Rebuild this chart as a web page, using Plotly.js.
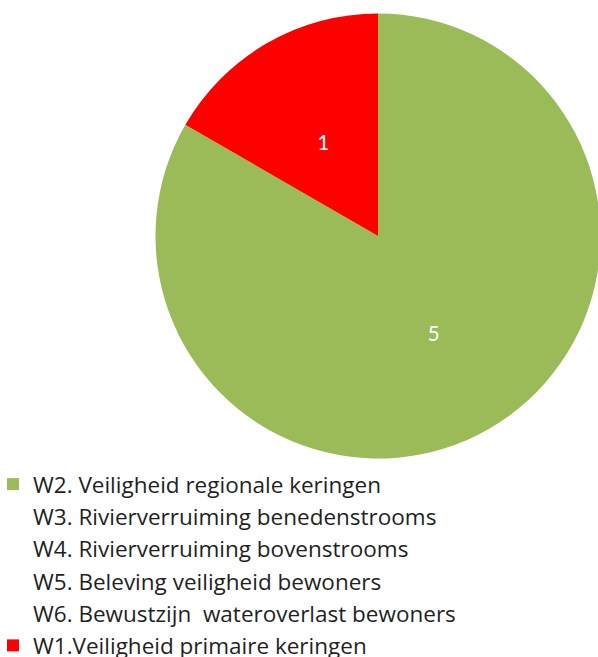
<!DOCTYPE html>
<html>
<head>
<meta charset="utf-8">
<script src="https://cdn.plot.ly/plotly-3.0.1.min.js"></script>
<style>html,body{margin:0;padding:0;background:#fff;overflow:hidden}</style>
</head>
<body>
<div id="chart" style="width:610px;height:657px"></div>
<script>
const labels = [
  "W2. Veiligheid regionale keringen",
  "W3. Rivierverruiming benedenstrooms",
  "W4. Rivierverruiming bovenstrooms",
  "W5. Beleving veiligheid bewoners",
  "W6. Bewustzijn  wateroverlast bewoners",
  "W1.Veiligheid primaire keringen"
];
const values = [5, 0, 0, 0, 0, 1];
const colors = ["#9BBB59", "rgba(0,0,0,0)", "rgba(0,0,0,0)", "rgba(0,0,0,0)", "rgba(0,0,0,0)", "#FF0000"];
// which slices get their value label on the main ring (1) or on the inner ring (0)
const labelOnOuter = [1, 1, 1, 1, 1, 0];

const W = 610, H = 657;
const cx = 378, cy = 236, half = 222.5, innerHalf = 164;
const transparent = labels.map(() => "rgba(0,0,0,0)");
const txtFont = { color: "#ffffff", size: 21, family: "Lato, sans-serif" };

const data = [{
  type: "pie",
  labels: labels,
  values: values,
  sort: false,
  direction: "clockwise",
  rotation: 0,
  marker: { colors: colors, line: { width: 0 } },
  texttemplate: labelOnOuter.map(f => f ? "%{value}" : ""),
  textposition: "inside",
  insidetextorientation: "horizontal",
  textfont: txtFont,
  hoverinfo: "label+value",
  domain: { x: [(cx - half) / W, (cx + half) / W], y: [(H - cy - half) / H, (H - cy + half) / H] }
}, {
  type: "pie",
  labels: labels,
  values: values,
  sort: false,
  direction: "clockwise",
  rotation: 0,
  showlegend: false,
  marker: { colors: transparent, line: { width: 0 } },
  texttemplate: labelOnOuter.map(f => f ? "" : "%{value}"),
  textposition: "inside",
  insidetextorientation: "horizontal",
  textfont: txtFont,
  hoverinfo: "skip",
  domain: { x: [(cx - innerHalf) / W, (cx + innerHalf) / W], y: [(H - cy - innerHalf) / H, (H - cy + innerHalf) / H] }
}];

const layout = {
  width: W, height: H,
  margin: { l: 0, r: 0, t: 0, b: 0, autoexpand: false },
  paper_bgcolor: "#ffffff",
  showlegend: true,
  legend: {
    x: -7 / W, xanchor: "left",
    y: (H - 463) / H, yanchor: "top",
    bgcolor: "rgba(0,0,0,0)",
    font: { family: "Open Sans, sans-serif", size: 22.5, color: "#1f1f1f" },
    tracegroupgap: 0,
    itemclick: false
  }
};

Plotly.newPlot("chart", data, layout, { displayModeBar: false, staticPlot: true });
</script>
</body>
</html>
